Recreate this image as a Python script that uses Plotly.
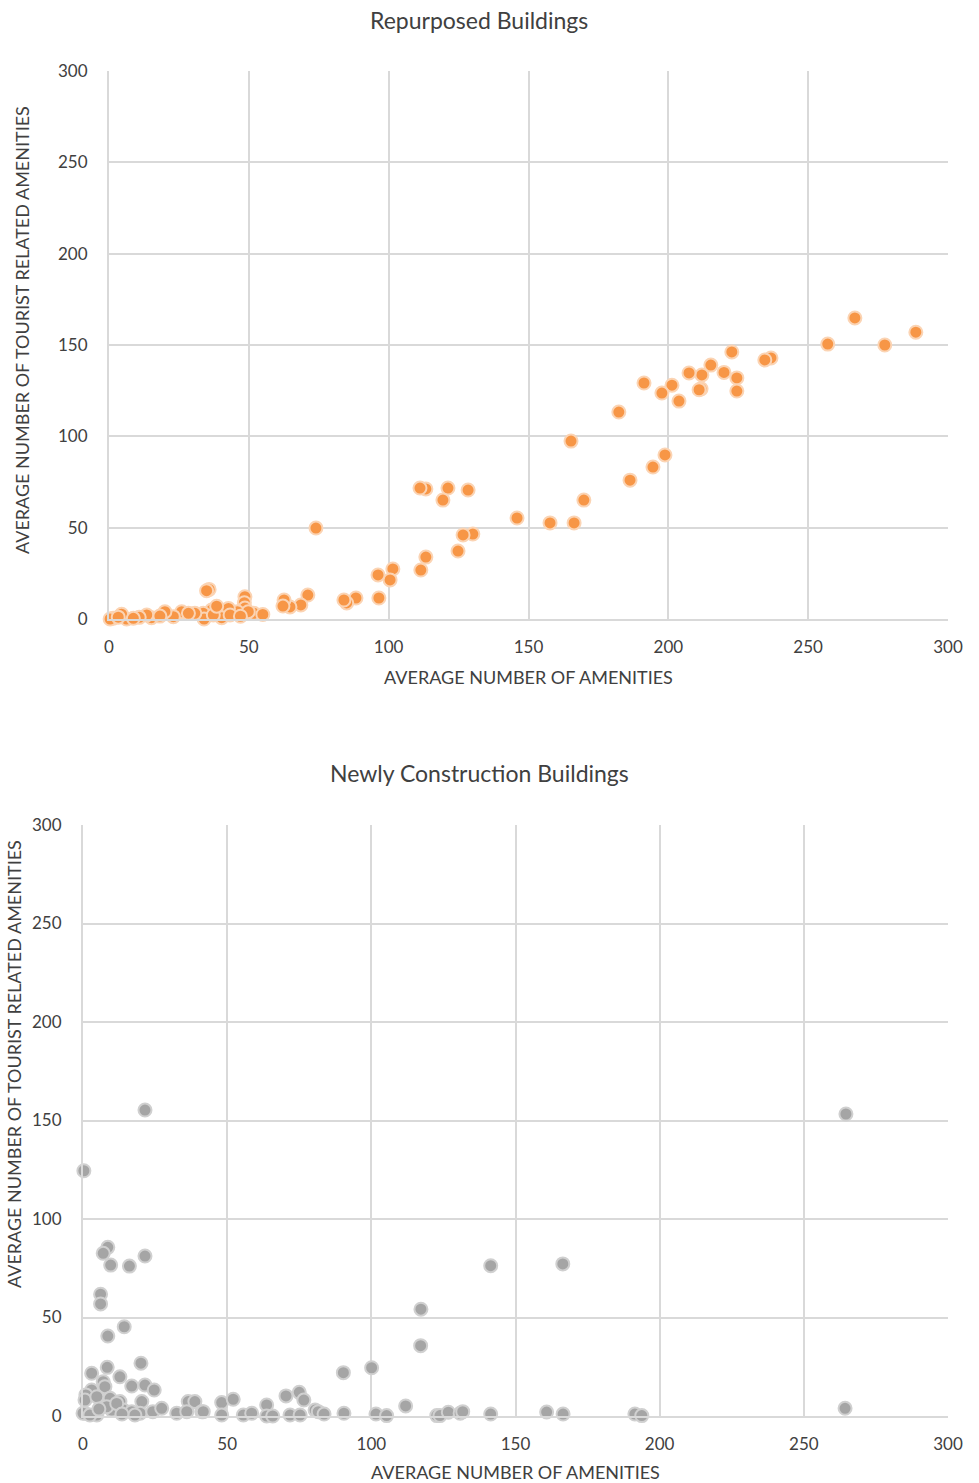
import plotly.graph_objects as go

# Repurposed buildings: average amenities vs average tourist-related amenities
repurposed_x = [288.5, 266.7, 277.4, 257.0, 236.7, 234.5, 222.7, 224.5, 224.5, 219.9,
                215.2, 212.0, 211.7, 211.0, 207.4, 203.8, 201.3, 197.7, 191.3, 182.3,
                165.2, 198.8, 194.5, 186.3, 169.8, 166.3, 157.7, 145.9, 128.4, 121.2,
                119.4, 113.3, 111.2, 130.1, 126.6, 124.8, 113.3, 111.5, 101.5, 100.5,
                96.2, 96.5, 74.0, 88.3, 85.0, 84.0, 71.1, 68.6, 64.7, 62.6,
                62.2, 35.8, 34.9, 48.6, 48.4, 48.6, 51.8, 45.9, 42.7, 40.3,
                36.7, 33.7, 34.0, 30.7, 26.0, 23.0, 20.0, 15.2, 13.5, 10.8,
                6.3, 4.5, 1.5, 0.4, 3.3, 8.7, 18.2, 28.4, 43.3, 37.3,
                49.8, 38.5, 47.0, 55.0]
repurposed_y = [157.0, 164.8, 150.0, 150.5, 142.9, 141.8, 146.2, 132.0, 124.8, 135.0,
                139.0, 133.6, 126.0, 125.5, 134.7, 119.3, 128.0, 123.7, 129.2, 113.3,
                97.4, 89.8, 83.2, 76.0, 65.1, 52.6, 52.6, 55.3, 70.6, 71.7,
                65.1, 71.2, 71.7, 46.5, 46.0, 37.2, 33.9, 26.8, 27.4, 21.4,
                24.1, 11.5, 49.8, 11.5, 8.8, 10.4, 13.1, 7.7, 6.6, 10.4,
                7.1, 16.2, 15.5, 12.2, 8.9, 6.0, 3.1, 4.0, 5.8, 0.7,
                4.9, 3.1, 0.0, 3.1, 4.0, 1.3, 4.0, 0.7, 2.2, 0.9,
                0.0, 2.6, 0.4, 0.0, 1.0, 0.4, 1.6, 3.1, 2.2, 2.2,
                4.0, 7.0, 1.5, 2.5]

# Newly constructed buildings
new_x = [21.5, 264.6, 264.3, 0.3, 8.6, 7.0, 9.6, 16.1, 21.5, 6.1,
         6.1, 8.6, 14.3, 20.1, 8.4, 3.0, 12.8, 7.0, 7.6, 16.9,
         21.5, 24.7, 3.0, 1.0, 0.7, 4.8, 9.4, 12.8, 20.4, 14.0,
         10.0, 4.8, 0.7, 0.0, 2.4, 16.9, 19.8, 24.2, 27.3, 32.5,
         36.5, 38.8, 36.0, 41.2, 48.1, 52.1, 48.1, 55.6, 58.5, 63.7,
         63.7, 65.8, 8.2, 11.7, 70.4, 75.0, 76.6, 71.8, 75.3, 80.5,
         81.6, 83.6, 90.5, 90.3, 100.1, 101.6, 105.3, 111.9, 117.1, 117.2,
         122.7, 123.8, 126.7, 130.8, 131.7, 141.4, 141.4, 160.8, 166.4, 166.5,
         191.4, 193.8, 41.7, 18.0, 13.5, 5.5]
new_y = [155.3, 153.3, 3.9, 124.5, 85.6, 82.6, 76.6, 76.1, 81.2, 61.8,
         56.9, 40.6, 45.3, 26.8, 24.7, 21.7, 19.9, 17.4, 14.9, 15.2,
         15.7, 13.2, 13.2, 10.7, 8.1, 9.8, 9.0, 7.3, 7.3, 3.0,
         3.0, 0.5, 1.4, 1.4, 0.5, 2.2, 1.4, 2.2, 3.9, 1.4,
         7.3, 7.3, 2.2, 2.2, 6.8, 8.5, 0.5, 0.5, 1.4, 5.6,
         0.0, 0.0, 4.7, 6.4, 10.2, 12.0, 8.1, 0.5, 0.5, 3.0,
         2.2, 1.0, 1.4, 22.0, 24.5, 1.0, 0.2, 5.1, 35.7, 54.2,
         0.2, 0.2, 1.9, 1.4, 2.2, 1.0, 76.3, 2.0, 77.2, 1.0,
         1.0, 0.2, 2.2, 0.5, 1.0, 3.5]

axis_ticks = [0, 50, 100, 150, 200, 250, 300]

FONT = "Lato"
TEXT = "#404040"
GRID = "#D9D9D9"
W, H = 979, 1483
Y_TITLE = "AVERAGE NUMBER OF TOURIST RELATED AMENITIES"

fig = go.Figure()
fig.add_trace(go.Scatter(
    x=repurposed_x, y=repurposed_y, mode="markers", xaxis="x", yaxis="y",
    cliponaxis=False,
    marker=dict(size=13, color="#F79646", line=dict(color="#FBD4B4", width=2)),
))
fig.add_trace(go.Scatter(
    x=new_x, y=new_y, mode="markers", xaxis="x2", yaxis="y2",
    cliponaxis=False,
    marker=dict(size=13, color="#A5A5A5", line=dict(color="#D0D0D0", width=2)),
))

def xaxis(domain, anchor):
    return dict(domain=domain, anchor=anchor, range=[0, 300], tickvals=axis_ticks,
                automargin=False,
                showgrid=True, gridcolor=GRID, gridwidth=2, zeroline=False,
                showline=True, linecolor=GRID, linewidth=2, mirror=False,
                ticks="", ticklabelstandoff=12,
                tickfont=dict(family=FONT, size=17, color=TEXT),
                title=dict(text="AVERAGE NUMBER OF AMENITIES",
                           font=dict(family=FONT, size=18, color=TEXT)))

def yaxis(domain, anchor):
    return dict(domain=domain, anchor=anchor, range=[0, 300], tickvals=axis_ticks,
                automargin=False,
                showgrid=True, gridcolor=GRID, gridwidth=2, zeroline=False,
                showline=True, linecolor=GRID, linewidth=2,
                ticks="", ticklabelstandoff=16,
                tickfont=dict(family=FONT, size=17, color=TEXT))

def label(text, x, y, size, angle=0):
    return dict(text=text, x=x / W, y=1 - y / H, xref="paper", yref="paper",
                showarrow=False, xanchor="center", yanchor="middle", textangle=angle,
                font=dict(family=FONT, size=size, color=TEXT))

fig.update_layout(
    width=W, height=H,
    margin=dict(l=0, r=0, t=0, b=0),
    paper_bgcolor="white", plot_bgcolor="white",
    showlegend=False,
    xaxis=xaxis([109 / W, 948 / W], "y"),
    yaxis=yaxis([1 - 619 / H, 1 - 71 / H], "x"),
    xaxis2=xaxis([83 / W, 948 / W], "y2"),
    yaxis2=yaxis([1 - 1416 / H, 1 - 825 / H], "x2"),
    annotations=[
        label("Repurposed Buildings", 479, 20, 23),
        label("Newly Construction Buildings", 479, 773, 23),
        label(Y_TITLE, 22, 330, 18, -90),
        label(Y_TITLE, 14, 1064, 18, -90),
    ],
)

fig.write_html("out.html")
